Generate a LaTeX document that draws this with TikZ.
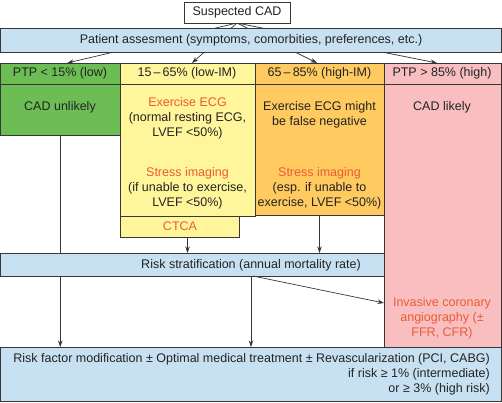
\documentclass[tikz,border=0pt]{standalone}
\usepackage{fontspec}
\setmainfont{Liberation Sans}
\usetikzlibrary{arrows.meta,calc}
\definecolor{bordc}{RGB}{55,55,55}
\definecolor{txtc}{RGB}{35,35,35}
\definecolor{redt}{RGB}{236,92,52}
\definecolor{bluef}{RGB}{200,225,242}
\definecolor{greenf}{RGB}{108,190,84}
\definecolor{yellowf}{RGB}{255,245,155}
\definecolor{orangef}{RGB}{255,202,96}
\definecolor{pinkf}{RGB}{248,190,192}
\pgfdeclarelayer{bg}
\pgfsetlayers{bg,main}
\begin{document}
\begin{tikzpicture}[x=1pt,y=-1pt,
  box/.style={draw=bordc, line width=0.7pt, inner sep=0pt, outer sep=0pt, anchor=north west},
  txt/.style={text=txtc, font=\fontsize{12.5}{15}\selectfont, align=center, inner sep=0pt},
  rtxt/.style={txt, text=redt},
  arr/.style={draw=bordc, line width=0.7pt, -{Stealth[length=6.5pt,width=4.5pt]}}]
\useasboundingbox (0,0) rectangle (502,402);
% boxes
\node[box, fill=white, minimum width=106pt, minimum height=21pt] (sus) at (184,2) {};
\node[box, fill=bluef, minimum width=501pt, minimum height=24pt] (pa) at (0.5,28) {};
\node[box, fill=greenf, minimum width=119.5pt, minimum height=21pt] (h1) at (0.5,63) {};
\node[box, fill=yellowf, minimum width=135pt, minimum height=21pt] (h2) at (120,63) {};
\node[box, fill=orangef, minimum width=129pt, minimum height=21pt] (h3) at (255,63) {};
\node[box, fill=pinkf, minimum width=117.5pt, minimum height=21pt] (h4) at (384,63) {};
\node[box, fill=greenf, minimum width=119.5pt, minimum height=51pt] (b1) at (0.5,84) {};
\node[box, fill=yellowf, minimum width=135pt, minimum height=132pt] (b2) at (120,84) {};
\node[box, fill=yellowf, minimum width=119pt, minimum height=21pt] (ctca) at (120,216) {};
\node[box, fill=orangef, minimum width=129pt, minimum height=131pt] (b3) at (255,84) {};
\node[box, fill=bluef, minimum width=501pt, minimum height=23pt] (rs) at (0.5,253) {};
\node[box, fill=pinkf, minimum width=117.5pt, minimum height=263pt] (b4) at (384,84) {};
\node[box, fill=bluef, minimum width=501pt, minimum height=54.5pt] (bot) at (0.5,347) {};
% texts
\node[txt] (tsus) at (sus.center) {Suspected CAD};
\node[txt] (tpa) at (251,40) {Patient assesment (symptoms, comorbities, preferences, etc.)};
\node[txt] (th1) at (60,73.5) {PTP < 15\% (low)};
\node[txt] (th2) at (187,73.5) {15\,–\,65\% (low-IM)};
\node[txt] (th3) at (319.5,73.5) {65\,–\,85\% (high-IM)};
\node[txt] (th4) at (442,73.5) {PTP > 85\% (high)};
\node[txt] (tb1) at (60,107) {CAD unlikely};
\node[txt] (tb2a) at (187.5,118) {\textcolor{redt}{Exercise ECG}\\(normal resting ECG,\\LVEF <50\%)};
\node[txt] (tb2b) at (187.5,188) {\textcolor{redt}{Stress imaging}\\(if unable to exercise,\\LVEF <50\%)};
\node[rtxt] (tctca) at (180,226.5) {CTCA};
\node[txt] (tb3a) at (319.5,114.5) {Exercise ECG might\\be false negative};
\node[txt] (tb3b) at (319.5,188) {\textcolor{redt}{Stress imaging}\\(esp. if unable to\\exercise, LVEF <50\%)};
\node[txt] (tb4) at (442,107) {CAD likely};
\node[rtxt] (tinv) at (442,318) {Invasive coronary\\angiography (±\\FFR, CFR)};
\node[txt] (trs) at (251,265) {Risk stratification (annual mortality rate)};
\node[txt, align=right, anchor=east] (tbot) at (490,374) {Risk factor modification ± Optimal medical treatment ± Revascularization (PCI, CABG)\\if risk ≥ 1\% (intermediate)\\or ≥ 3\% (high risk)};
\coordinate (invpt) at (384,303);
% connectors
\begin{pgfonlayer}{bg}
\draw[arr] (sus.south) -- ([xshift=7pt]h1.north);
\draw[arr] (sus.south) -- ([xshift=4.5pt]h2.north);
\draw[arr] (sus.south) -- ([xshift=-2.5pt]h3.north);
\draw[arr] (sus.south) -- ([xshift=-5.75pt]h4.north);
\draw[arr] (b1.south) -- (b1.south |- bot.north);
\end{pgfonlayer}
\draw[arr] (b2.south |- ctca.south) -- (b2.south |- rs.north);
\draw[arr] (b3.south) -- (b3.south |- rs.north);
\draw[arr] (rs.south) -- (rs.south |- bot.north);
\draw[arr] ([xshift=2pt]rs.south) -- (invpt);
\end{tikzpicture}
\end{document}
